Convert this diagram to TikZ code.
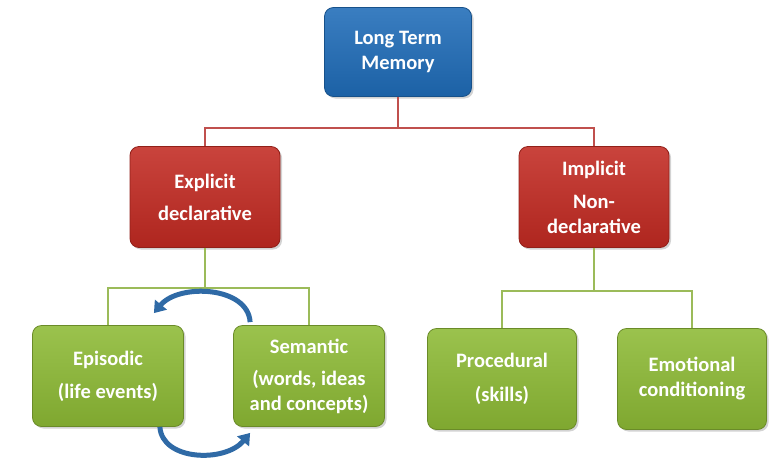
\documentclass[tikz,border=0pt]{standalone}
\usepackage{fontspec}
\setmainfont{Carlito}
\usetikzlibrary{arrows.meta,shadows}

\definecolor{ltmblue}{HTML}{1F6CB8}
\definecolor{boxred}{HTML}{C22A22}
\definecolor{boxgreen}{HTML}{8DBA35}
\definecolor{linered}{HTML}{C0504D}
\definecolor{linegreen}{HTML}{9BBB59}
\definecolor{arrowblue}{HTML}{2F6AA6}

\begin{document}
\begin{tikzpicture}[x=1pt,y=-1pt,
    box/.style={rounded corners=9pt, draw=#1!75!black, line width=0.8pt,
      top color=#1!88!white, bottom color=#1!90!black,
      drop shadow={shadow xshift=2pt,shadow yshift=-2pt,opacity=0.35},
      text=white, align=center, inner sep=2pt,
      font=\bfseries\fontsize{20.5}{25}\selectfont,
      minimum width=150pt, minimum height=101pt},
    tree/.style={line width=2.5pt},
    swap/.style={arrowblue, line width=5pt, -{Triangle[width=15pt,length=11pt]}}]
  \useasboundingbox (0,0) rectangle (770,461);

  % top level
  \node[box=ltmblue, minimum width=147pt, minimum height=89pt] (ltm) at (398,52)
    {Long Term\\Memory};

  % second level
  \node[box=boxred] (expl) at (205,197) {Explicit\\[7pt]declarative};
  \node[box=boxred] (impl) at (594,197) {Implicit\\[8pt]Non-\\declarative};

  % third level
  \node[box=boxgreen, minimum width=151pt] (epi) at (108,376) {Episodic\\[8pt](life events)};
  \node[box=boxgreen, minimum width=151pt] (sem) at (309,376) {Semantic\\[7pt](words, ideas\\and concepts)};
  \node[box=boxgreen, minimum width=149pt] (proc) at (502,379) {Procedural\\[9pt](skills)};
  \node[box=boxgreen, minimum width=149pt] (emo) at (692,379) {Emotional\\conditioning};

  % red branches
  \draw[tree, linered] (ltm.south) -- ++(0,31) -| (expl.north);
  \draw[tree, linered] (ltm.south) -- ++(0,31) -| (impl.north);

  % green branches
  \draw[tree, linegreen] (expl.south) -- ++(0,40) -| (epi.north);
  \draw[tree, linegreen] (expl.south) -- ++(0,40) -| (sem.north);
  \draw[tree, linegreen] (impl.south) -- ++(0,43) -| (proc.north);
  \draw[tree, linegreen] (impl.south) -- ++(0,43) -| (emo.north);

  % episodic <-> semantic
  \draw[swap] ([xshift=17pt,yshift=3pt]sem.north west)
    .. controls +(-2,-36) and +(25,-30) .. ([xshift=-30pt,yshift=12pt]epi.north east);
  \draw[swap] ([xshift=-24pt]epi.south east)
    .. controls +(2,34) and +(-25,30) .. ([xshift=17pt,yshift=-6pt]sem.south west);
\end{tikzpicture}
\end{document}
